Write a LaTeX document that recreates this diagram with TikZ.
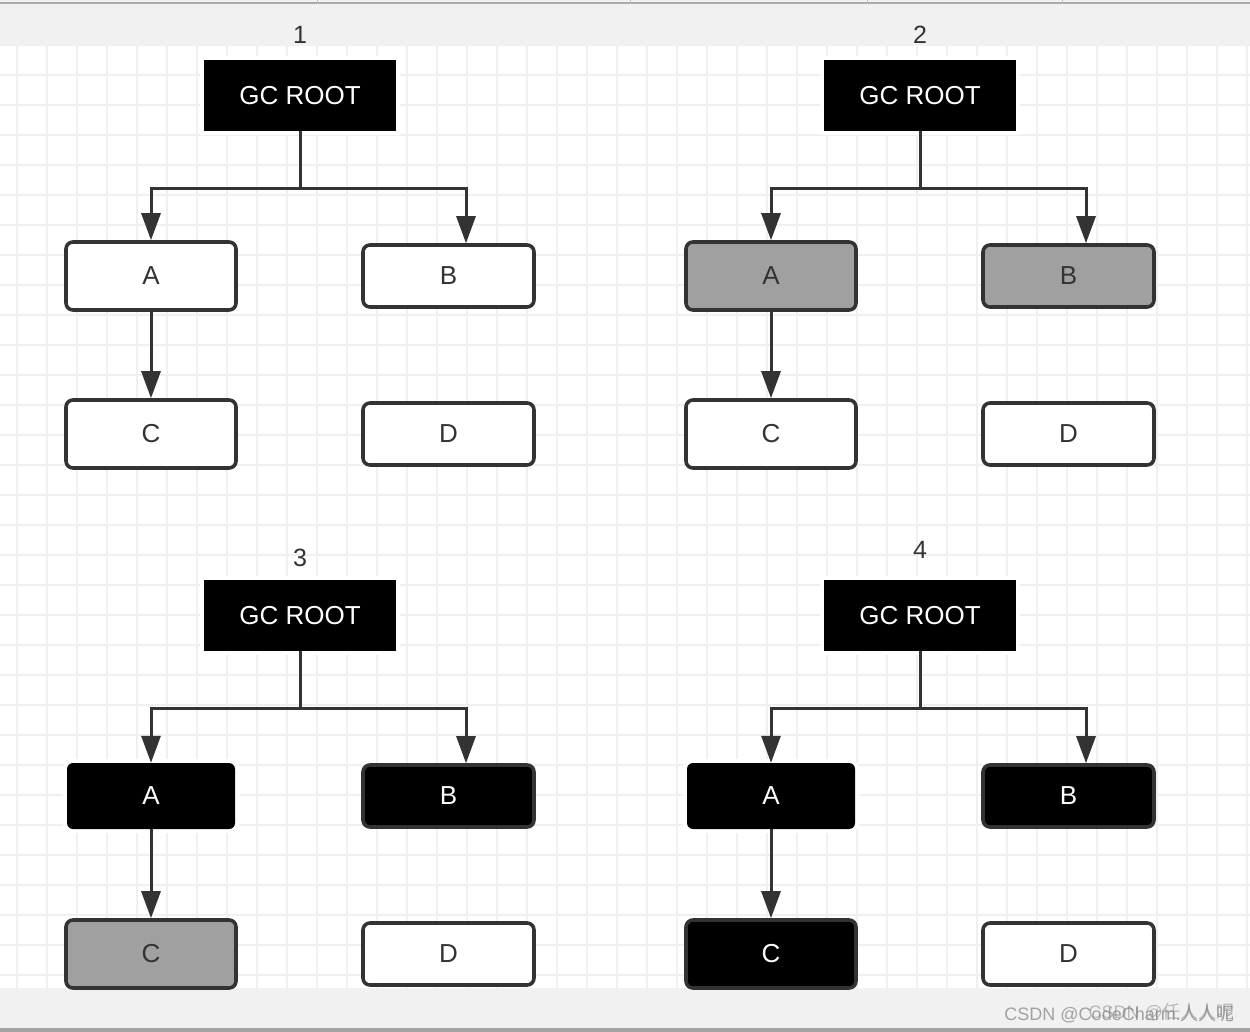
\documentclass[tikz,border=0pt]{standalone}
\usepackage{fontspec}
\setmainfont{Liberation Sans}
\newfontfamily\cjk{Noto Sans CJK SC}
\usetikzlibrary{arrows.meta}
\definecolor{ink}{HTML}{333333}
\definecolor{gridc}{HTML}{F0F0F0}
\definecolor{barc}{HTML}{F1F1F1}
\definecolor{midgray}{HTML}{A0A0A0}
\tikzset{
  lbl/.style={text=ink,font=\fontsize{25}{28}\selectfont,inner sep=0pt},
  rootbox/.style={fill=black,text=white,minimum width=192pt,minimum height=71pt,inner sep=0pt,
    font=\fontsize{26}{30}\selectfont,preaction={draw=white,line width=8pt}},
  wbox/.style={draw=ink,line width=3.6pt,rounded corners=7pt,fill=white,text=ink,inner sep=0pt,
    font=\fontsize{26}{30}\selectfont},
  gbox/.style={wbox,fill=midgray},
  bbox/.style={wbox,fill=black,text=white},
  nbbox/.style={fill=black,text=white,rounded corners=6pt,inner sep=0pt,
    font=\fontsize{26}{30}\selectfont,preaction={draw=white,line width=8pt}},
  big/.style={minimum width=170pt,minimum height=68pt},
  sml/.style={minimum width=171pt,minimum height=62pt},
  nb/.style={minimum width=168pt,minimum height=66pt},
  conn/.style={draw=ink,line width=3pt,-{Triangle[length=27pt,width=19pt]}},
  gridline/.style={draw=gridc,line width=1.6pt},
}
\begin{document}
\begin{tikzpicture}[x=1pt,y=-1pt]
\useasboundingbox (0,0) rectangle (1250,1032);
\fill[white] (0,0) rectangle (1250,1032);
% grid
\foreach \x in {17,47,...,1247} \draw[gridline] (\x,45) -- (\x,988);
\foreach \y in {45,75,...,975} \draw[gridline] (0,\y) -- (1250,\y);
% top bar
\fill[barc] (0,0) rectangle (1250,45);
\draw[draw=black!33,line width=2pt] (0,3) -- (1250,3);
\foreach \x in {317,630,867,1062} \draw[draw=black!25,line width=1pt] (\x,0) -- (\x,4);
% bottom bar
\fill[barc] (0,988) rectangle (1250,1028);
\fill[black!36] (0,1028) rectangle (1250,1032);

% ---------- panel 1 ----------
\node[lbl] (t1) at (300,35) {1};
\node[rootbox] (r1) at (300,95.5) {GC ROOT};
\node[wbox,big] (a1) at (151,276) {A};
\node[wbox,sml] (b1) at (448.5,276) {B};
\node[wbox,big] (c1) at (151,434) {C};
\node[wbox,sml] (d1) at (448.5,434) {D};
\draw[conn] (r1.south) -- ++(0,57) -| (a1.north);
\draw[conn] (r1.south) -- ++(0,57) -| ([xshift=17.5pt]b1.north);
\draw[conn] (a1.south) -- (c1.north);

% ---------- panel 2 ----------
\node[lbl] (t2) at (920,35) {2};
\node[rootbox] (r2) at (920,95.5) {GC ROOT};
\node[gbox,big] (a2) at (771,276) {A};
\node[gbox,sml] (b2) at (1068.5,276) {B};
\node[wbox,big] (c2) at (771,434) {C};
\node[wbox,sml] (d2) at (1068.5,434) {D};
\draw[conn] (r2.south) -- ++(0,57) -| (a2.north);
\draw[conn] (r2.south) -- ++(0,57) -| ([xshift=17.5pt]b2.north);
\draw[conn] (a2.south) -- (c2.north);

% ---------- panel 3 ----------
\node[lbl] (t3) at (300,558) {3};
\node[rootbox] (r3) at (300,615.5) {GC ROOT};
\node[nbbox,nb] (a3) at (151,796) {A};
\node[bbox,sml] (b3) at (448.5,796) {B};
\node[gbox,big] (c3) at (151,954) {C};
\node[wbox,sml] (d3) at (448.5,954) {D};
\draw[conn] (r3.south) -- ++(0,57) -| (a3.north);
\draw[conn] (r3.south) -- ++(0,57) -| ([xshift=17.5pt]b3.north);
\draw[conn] (a3.south) -- (c3.north);

% ---------- panel 4 ----------
\node[lbl] (t4) at (920,550) {4};
\node[rootbox] (r4) at (920,615.5) {GC ROOT};
\node[nbbox,nb] (a4) at (771,796) {A};
\node[bbox,sml] (b4) at (1068.5,796) {B};
\node[bbox,big] (c4) at (771,954) {C};
\node[wbox,sml] (d4) at (1068.5,954) {D};
\draw[conn] (r4.south) -- ++(0,57) -| (a4.north);
\draw[conn] (r4.south) -- ++(0,57) -| ([xshift=17.5pt]b4.north);
\draw[conn] (a4.south) -- (c4.north);

% watermark
\node[anchor=east,text=black!50,opacity=0.7,inner sep=0pt,font=\fontsize{18}{20}\selectfont] (wm1) at (1235,1014) {CSDN @CodeCharm.{\cjk 人人呢}};
\node[anchor=east,text=black!50,opacity=0.5,inner sep=0pt,font=\fontsize{18}{20}\selectfont] (wm2) at (1235,1012) {CSDN @{\cjk 任人人呢}};
\end{tikzpicture}
\end{document}
